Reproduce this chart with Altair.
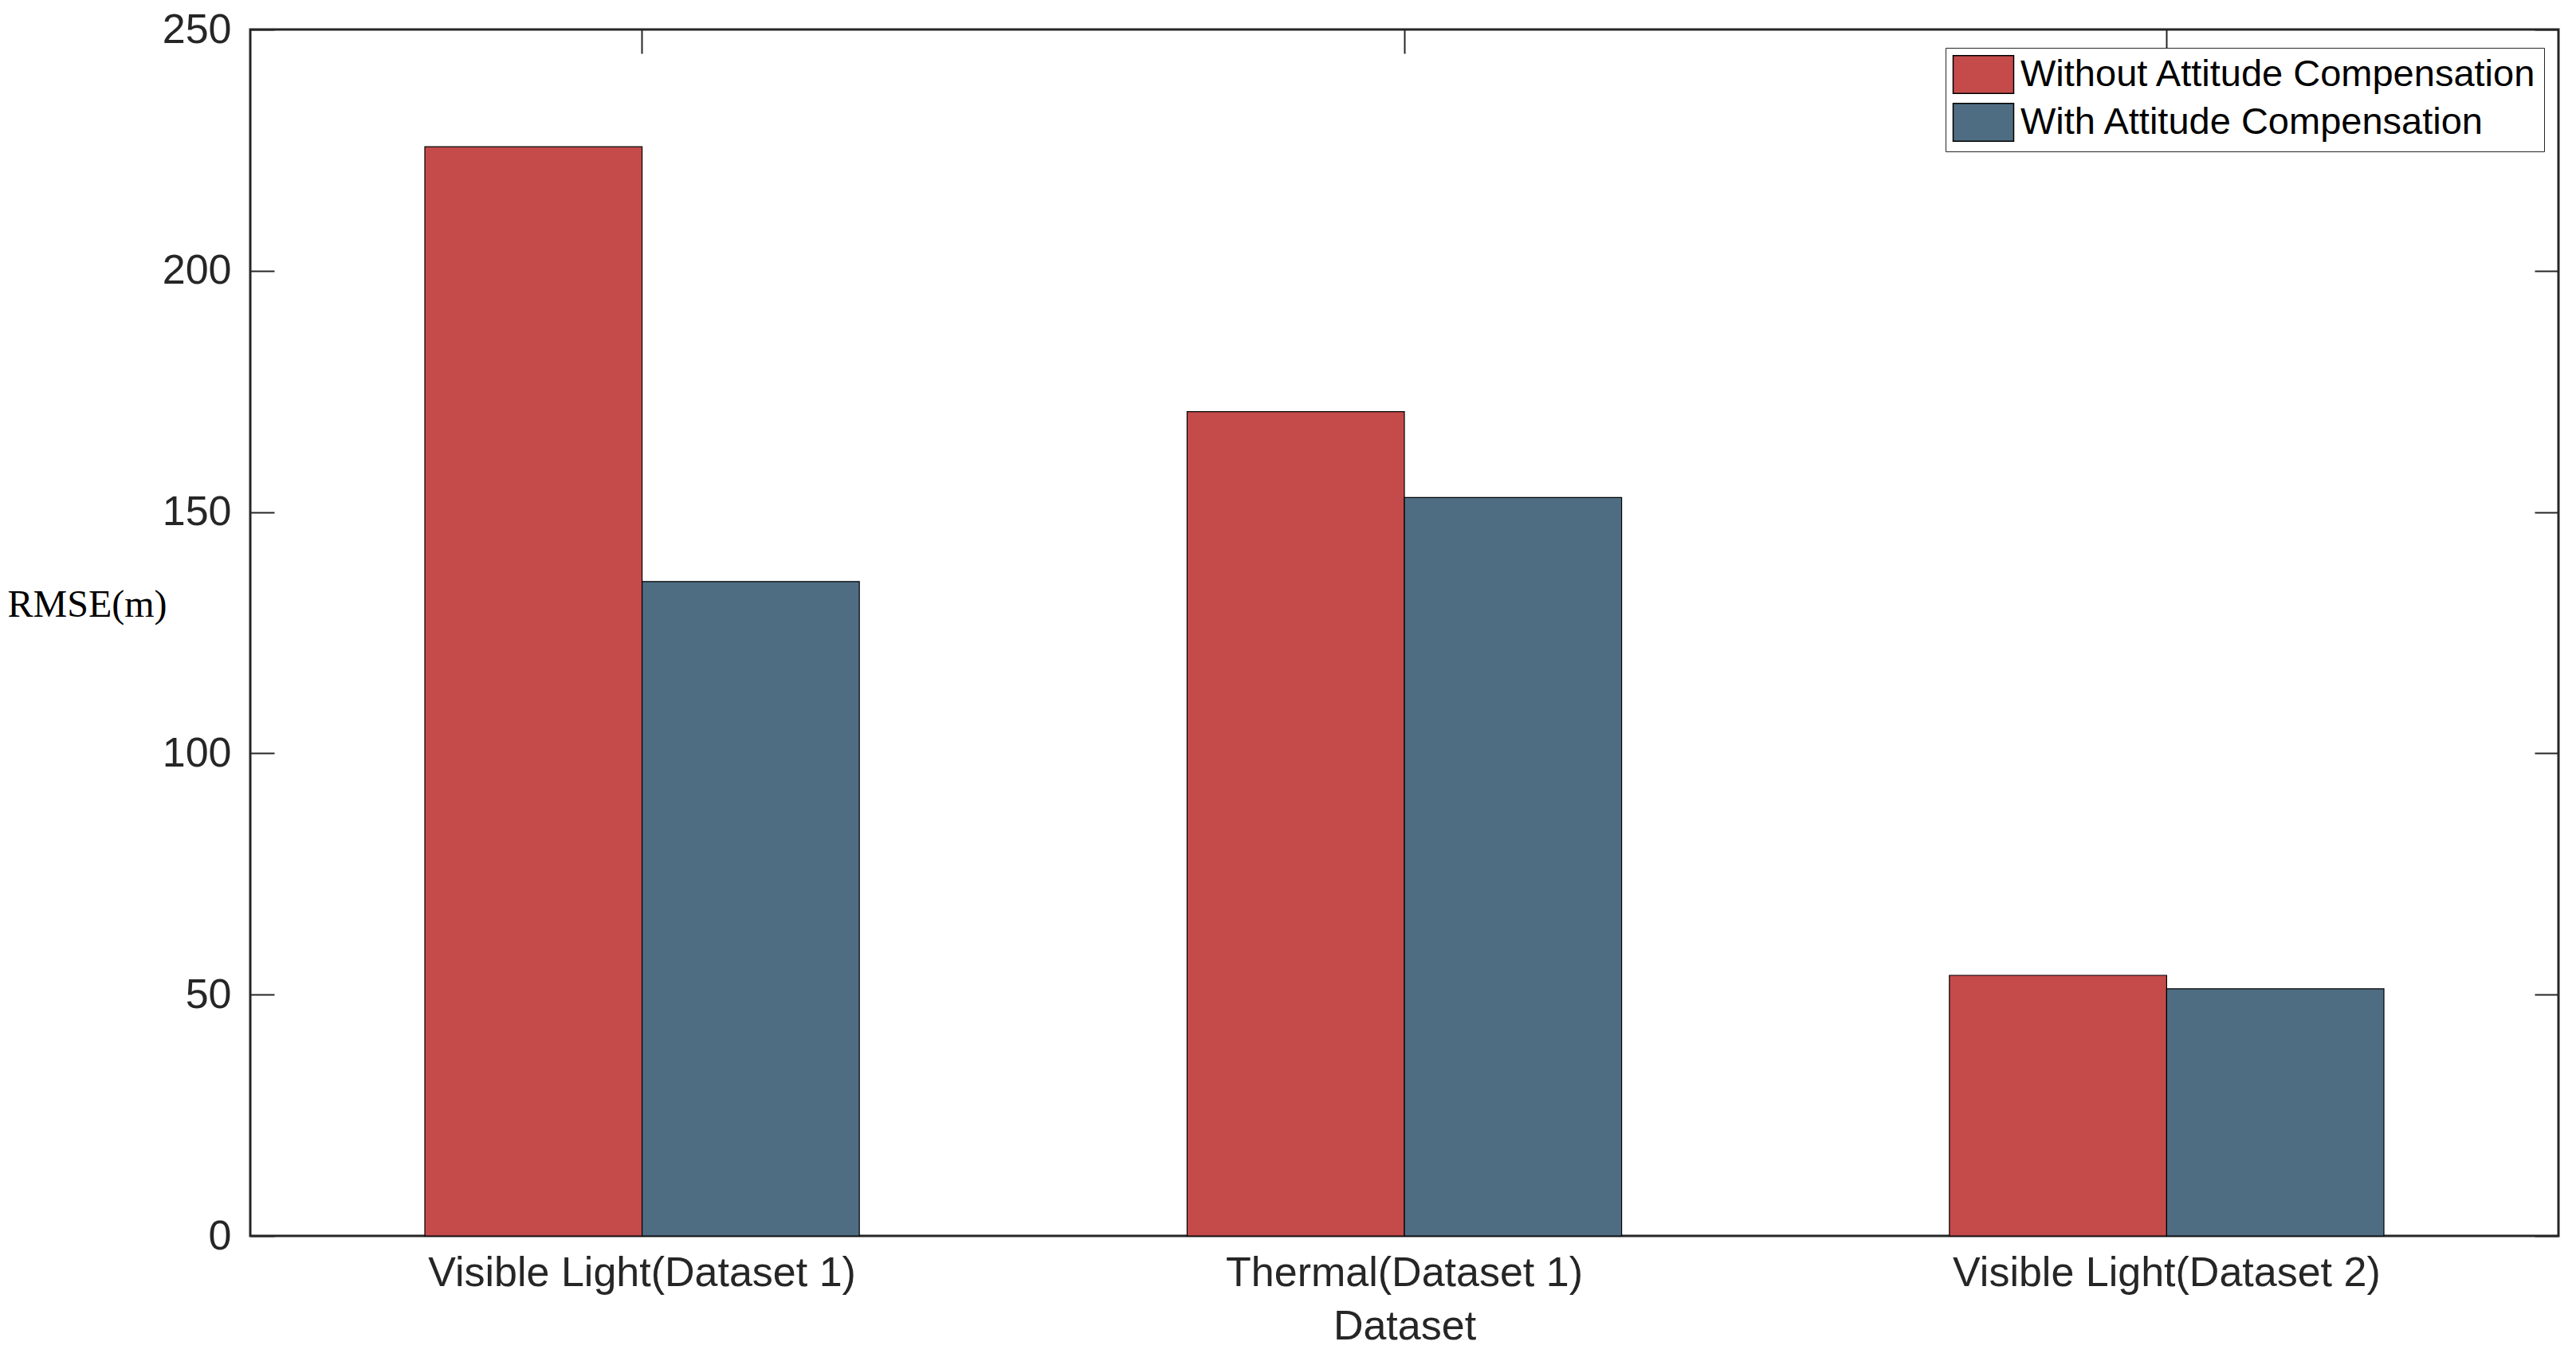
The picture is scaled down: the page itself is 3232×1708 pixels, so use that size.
import altair as alt
import pandas as pd

categories = ["Visible Light(Dataset 1)", "Thermal(Dataset 1)", "Visible Light(Dataset 2)"]
series = ["Without Attitude Compensation", "With Attitude Compensation"]
without_vals = [225.7, 170.8, 54.0]
with_vals = [135.6, 153.0, 51.2]
colors = ["#C44B4A", "#4F6D82"]
y_ticks = [0, 50, 100, 150, 200, 250]

rows = []
for c, a, b in zip(categories, without_vals, with_vals):
    rows.append({"Dataset": c, "Series": series[0], "RMSE": a})
    rows.append({"Dataset": c, "Series": series[1], "RMSE": b})
df = pd.DataFrame(rows)

W, H = 2896, 1514
FONT = "Liberation Sans"
TXT = "#262626"
TICK = 30

xscale = alt.Scale(domain=categories, paddingInner=0.43, paddingOuter=0.229)
yscale = alt.Scale(domain=[0, 250], nice=False)
oscale = alt.Scale(domain=series, paddingInner=0, paddingOuter=0)
cscale = alt.Scale(domain=series, range=colors)

base = alt.Chart(df)

bars = base.mark_bar(stroke="black", strokeWidth=1.2).encode(
    x=alt.X("Dataset:N", scale=xscale, sort=categories,
            axis=alt.Axis(orient="bottom", title="Dataset", labelAngle=0,
                          tickSize=0, domain=False, labelFont=FONT, labelFontSize=52,
                          labelColor=TXT, labelPadding=21, labelLimit=2000,
                          titleFont=FONT,
                          titleFontSize=52, titleFontWeight="normal", titleColor=TXT,
                          titlePadding=16)),
    xOffset=alt.XOffset("Series:N", scale=oscale, sort=series),
    y=alt.Y("RMSE:Q", scale=yscale,
            axis=alt.Axis(orient="left", values=y_ticks, title="RMSE(m)", tickSize=0,
                          domain=False, grid=False, labelFont=FONT, labelFontSize=52,
                          labelColor=TXT, labelPadding=24,
                          titleFont="Liberation Serif", titleFontSize=48,
                          titleFontWeight="normal", titleColor="black",
                          titleAngle=0, titleAlign="center", titleBaseline="middle",
                          titleX=-205, titleY=722)),
    color=alt.Color("Series:N", scale=cscale, sort=series,
                    legend=alt.Legend(title=None, orient="none", legendX=2127, legendY=23,
                                      labelFont=FONT, labelFontSize=47, labelColor="black",
                                      symbolType="M-1.6,-1L1.6,-1L1.6,1L-1.6,1Z",
                                      symbolSize=2256, symbolStrokeColor="black",
                                      symbolStrokeWidth=1.5, symbolOpacity=1,
                                      symbolOffset=14, labelOffset=22,
                                      rowPadding=5, padding=9,
                                      strokeColor="#262626", fillColor="white",
                                      labelLimit=1000)),
)

ghost1 = base.mark_bar(opacity=0).encode(
    x=alt.X("Dataset:N", scale=xscale, sort=categories,
            axis=alt.Axis(orient="top", offset=-H, labels=False, title=None,
                          tickSize=TICK, tickWidth=2, tickColor=TXT, domain=False)),
    xOffset=alt.XOffset("Series:N", scale=oscale, sort=series),
    y=alt.Y("RMSE:Q", scale=yscale,
            axis=alt.Axis(orient="right", offset=-W, values=y_ticks, labels=False,
                          title=None, tickSize=TICK, tickWidth=2, tickColor=TXT,
                          domain=False, grid=False)),
)

ghost2 = base.mark_bar(opacity=0).encode(
    x=alt.X("Dataset:N", scale=xscale, sort=categories,
            axis=alt.Axis(orient="bottom", offset=-H, labels=False, title=None,
                          tickSize=TICK, tickWidth=2, tickColor=TXT, domain=False)),
    xOffset=alt.XOffset("Series:N", scale=oscale, sort=series),
    y=alt.Y("RMSE:Q", scale=yscale,
            axis=alt.Axis(orient="left", offset=-W, values=y_ticks, labels=False,
                          title=None, tickSize=TICK, tickWidth=2, tickColor=TXT,
                          domain=False, grid=False)),
)

chart = alt.layer(bars, ghost1, ghost2).resolve_axis(
    x="independent", y="independent"
).properties(
    width=W, height=H,
    autosize=alt.AutoSizeParams(type="none"),
    padding={"left": 306, "top": 29, "right": 10, "bottom": 155},
    background="white",
).configure_view(
    stroke=TXT, strokeWidth=3
)

chart.save("out.html", embed_options={"renderer": "svg", "actions": False})
